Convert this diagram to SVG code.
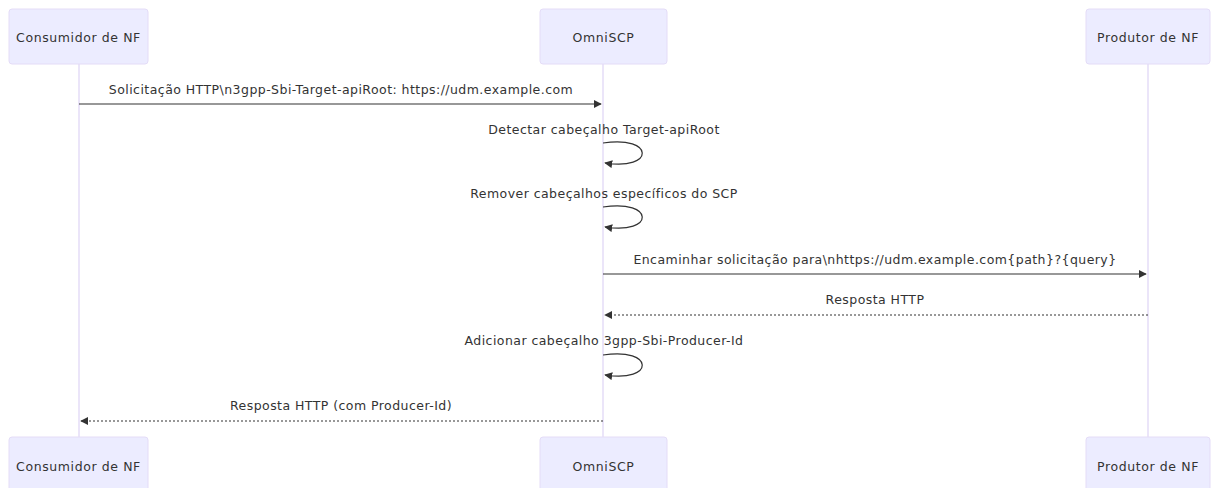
<svg xmlns="http://www.w3.org/2000/svg" width="1211" height="488" viewBox="0 0 1211 488">
<style>
.actor{fill:#ECECFF;stroke:#e4dcf7;stroke-width:1}
.atext{font-family:"DejaVu Sans","Open Sans",sans-serif;font-size:12.5px;letter-spacing:0.6px;fill:#333;text-anchor:middle;dominant-baseline:central}
.life{stroke:#e4dcf7;stroke-width:1.5}
.msg{font-family:"DejaVu Sans","Open Sans",sans-serif;font-size:12.5px;letter-spacing:0.45px;fill:#333;text-anchor:middle;dominant-baseline:central}
.line{stroke:#333;stroke-width:1.2;fill:none}
.dot{stroke:#333;stroke-width:1.2;fill:none;stroke-dasharray:2,2}
</style>
<defs>
<marker id="ah" viewBox="0 0 10 10" refX="9" refY="5" markerWidth="8" markerHeight="8" orient="auto-start-reverse" markerUnits="userSpaceOnUse">
<path d="M0,0 L10,5 L0,10 z" fill="#333"/>
</marker>
</defs>
<g id="lifelines">
<line class="life" x1="79" y1="64" x2="79" y2="437"/>
<line class="life" x1="603" y1="64" x2="603" y2="437"/>
<line class="life" x1="1148" y1="64" x2="1148" y2="437"/>
</g>
<g id="actor-consumidor-top"><rect class="actor" x="9" y="9" width="139" height="55" rx="3"/><text class="atext" x="78.5" y="37">Consumidor de NF</text></g>
<g id="actor-omniscp-top"><rect class="actor" x="540" y="9" width="127" height="55" rx="3"/><text class="atext" x="603.5" y="37">OmniSCP</text></g>
<g id="actor-produtor-top"><rect class="actor" x="1086" y="9" width="124" height="55" rx="3"/><text class="atext" x="1148" y="37">Produtor de NF</text></g>
<g id="actor-consumidor-bottom"><rect class="actor" x="9" y="437" width="139" height="55" rx="3"/><text class="atext" x="78.5" y="466">Consumidor de NF</text></g>
<g id="actor-omniscp-bottom"><rect class="actor" x="540" y="437" width="127" height="55" rx="3"/><text class="atext" x="603.5" y="466">OmniSCP</text></g>
<g id="actor-produtor-bottom"><rect class="actor" x="1086" y="437" width="124" height="55" rx="3"/><text class="atext" x="1148" y="466">Produtor de NF</text></g>
<g id="connectors">
<line class="line" x1="79" y1="104" x2="601" y2="104" marker-end="url(#ah)"/>
<path class="line" d="M603,143 C655,135 655,171 605,163" marker-end="url(#ah)"/>
<path class="line" d="M603,207 C655,199 655,235 605,227" marker-end="url(#ah)"/>
<line class="line" x1="603" y1="274" x2="1146" y2="274" marker-end="url(#ah)"/>
<line class="dot" x1="1148" y1="315" x2="605" y2="315" marker-end="url(#ah)"/>
<path class="line" d="M603,355 C655,347 655,383 605,375" marker-end="url(#ah)"/>
<line class="dot" x1="603" y1="421" x2="81" y2="421" marker-end="url(#ah)"/>
</g>
<g id="labels">
<text class="msg" x="341" y="89">Solicitação HTTP\n3gpp-Sbi-Target-apiRoot: https://udm.example.com</text>
<text class="msg" x="604" y="129">Detectar cabeçalho Target-apiRoot</text>
<text class="msg" x="604" y="193">Remover cabeçalhos específicos do SCP</text>
<text class="msg" x="875" y="259">Encaminhar solicitação para\nhttps://udm.example.com{path}?{query}</text>
<text class="msg" x="875" y="299">Resposta HTTP</text>
<text class="msg" x="604" y="340">Adicionar cabeçalho 3gpp-Sbi-Producer-Id</text>
<text class="msg" x="341" y="405">Resposta HTTP (com Producer-Id)</text>
</g>
</svg>
